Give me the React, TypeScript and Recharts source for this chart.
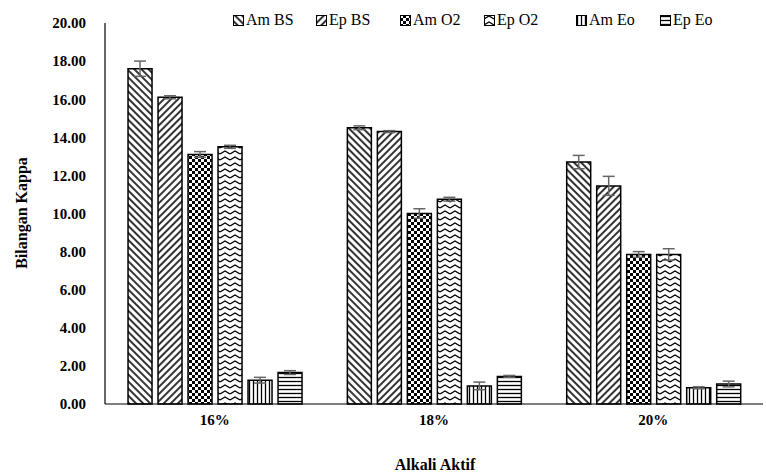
import React from 'react';
import { BarChart, Bar, XAxis, YAxis, ErrorBar } from 'recharts';

const categories = ['16%', '18%', '20%'];
const seriesNames = ['Am BS', 'Ep BS', 'Am O2', 'Ep O2', 'Am Eo', 'Ep Eo'];
const amBS = [17.6, 14.5, 12.7];
const epBS = [16.1, 14.3, 11.45];
const amO2 = [13.1, 10.0, 7.85];
const epO2 = [13.5, 10.75, 7.85];
const amEo = [1.25, 0.95, 0.85];
const epEo = [1.65, 1.45, 1.05];
const errAmBS = [0.4, 0.1, 0.35];
const errEpBS = [0.08, 0.05, 0.5];
const errAmO2 = [0.15, 0.25, 0.15];
const errEpO2 = [0.08, 0.1, 0.3];
const errAmEo = [0.15, 0.2, 0.05];
const errEpEo = [0.1, 0.05, 0.15];
const yTicks = [0, 2, 4, 6, 8, 10, 12, 14, 16, 18, 20];

const values = [amBS, epBS, amO2, epO2, amEo, epEo];
const errors = [errAmBS, errEpBS, errAmO2, errEpO2, errAmEo, errEpEo];
const patternIds = ['pAmBS', 'pEpBS', 'pAmO2', 'pEpO2', 'pAmEo', 'pEpEo'];

const data = categories.map((c, i) => {
  const row: any = { name: c };
  seriesNames.forEach((s, k) => {
    row['v' + k] = values[k][i];
    row['e' + k] = errors[k][i];
  });
  return row;
});

const FONT = 'Liberation Serif';

const Patterns = () => (
  <svg width={0} height={0} style={{ position: 'absolute' }}>
    <defs>
      <pattern id="pAmBS" width="5" height="5" patternUnits="userSpaceOnUse" patternTransform="rotate(-45)">
        <rect width="5" height="5" fill="#fff" />
        <line x1="1" y1="0" x2="1" y2="5" stroke="#000" strokeWidth="1.6" />
      </pattern>
      <pattern id="pEpBS" width="5" height="5" patternUnits="userSpaceOnUse" patternTransform="rotate(45)">
        <rect width="5" height="5" fill="#fff" />
        <line x1="1" y1="0" x2="1" y2="5" stroke="#000" strokeWidth="1.6" />
      </pattern>
      <pattern id="pAmO2" width="6" height="6" patternUnits="userSpaceOnUse">
        <rect width="6" height="6" fill="#000" />
        <rect x="0" y="0" width="3" height="3" fill="#fff" />
        <rect x="3" y="3" width="3" height="3" fill="#fff" />
      </pattern>
      <pattern id="pEpO2" width="10" height="6" patternUnits="userSpaceOnUse">
        <rect width="10" height="6" fill="#fff" />
        <path d="M0 4 L5 1 L10 4" fill="none" stroke="#000" strokeWidth="1.4" />
      </pattern>
      <pattern id="pAmEo" width="4" height="4" patternUnits="userSpaceOnUse">
        <rect width="4" height="4" fill="#fff" />
        <line x1="1.5" y1="0" x2="1.5" y2="4" stroke="#000" strokeWidth="1.3" />
      </pattern>
      <pattern id="pEpEo" width="4" height="4" patternUnits="userSpaceOnUse">
        <rect width="4" height="4" fill="#fff" />
        <line x1="0" y1="1.5" x2="4" y2="1.5" stroke="#000" strokeWidth="1.3" />
      </pattern>
    </defs>
  </svg>
);

const legendX = [233, 316, 400, 484, 576, 660];

export default function App() {
  return (
    <div style={{ position: 'absolute', left: 0, top: 0, width: 766, height: 475, background: '#fff', fontFamily: FONT }}>
      <Patterns />
      <BarChart
        width={766}
        height={475}
        data={data}
        margin={{ top: 23, right: 3, bottom: 41, left: 0 }}
        barCategoryGap="10.5%"
        barGap={6}
        style={{ fontFamily: FONT }}
      >
        <XAxis
          dataKey="name"
          height={30}
          tickLine={false}
          axisLine={{ stroke: '#000', strokeWidth: 1.2 }}
          tick={{ fill: '#000', fontFamily: FONT, fontWeight: 'bold', fontSize: 15 }}
          tickMargin={10}
          tickSize={0}
        />
        <YAxis
          width={105}
          domain={[0, 20]}
          ticks={yTicks}
          interval={0}
          tickFormatter={(v: number) => v.toFixed(2)}
          tickLine={false}
          tickSize={0}
          tickMargin={19}
          axisLine={{ stroke: '#000', strokeWidth: 1.2 }}
          tick={{ fill: '#000', fontFamily: FONT, fontWeight: 'bold', fontSize: 15 }}
        />
        {seriesNames.map((s, k) => (
          <Bar
            key={s}
            dataKey={'v' + k}
            name={s}
            fill={`url(#${patternIds[k]})`}
            stroke="#000"
            strokeWidth={1.5}
            isAnimationActive={false}
          >
            <ErrorBar dataKey={'e' + k} width={6} stroke="#666" strokeWidth={1.5} direction="y" />
          </Bar>
        ))}
      </BarChart>
      <div style={{ position: 'absolute', left: 0, top: 0, width: 766, height: 475, pointerEvents: 'none' }}>
        {seriesNames.map((s, k) => (
          <div key={s} style={{ position: 'absolute', left: legendX[k], top: 10, height: 20, display: 'flex', alignItems: 'center', fontSize: 16, color: '#000' }}>
            <svg width={11} height={11} style={{ marginRight: 2 }}>
              <rect x={0.5} y={0.5} width={10} height={10} fill={`url(#${patternIds[k]})`} stroke="#000" strokeWidth={1} />
            </svg>
            <span>{s}</span>
          </div>
        ))}
        <div style={{ position: 'absolute', left: 22, top: 213, transform: 'translate(-50%, -50%) rotate(-90deg)', fontWeight: 'bold', fontSize: 16, whiteSpace: 'nowrap' }}>
          Bilangan Kappa
        </div>
        <div style={{ position: 'absolute', left: 435, top: 465, transform: 'translate(-50%, -50%)', fontWeight: 'bold', fontSize: 16, whiteSpace: 'nowrap' }}>
          Alkali Aktif
        </div>
      </div>
    </div>
  );
}
